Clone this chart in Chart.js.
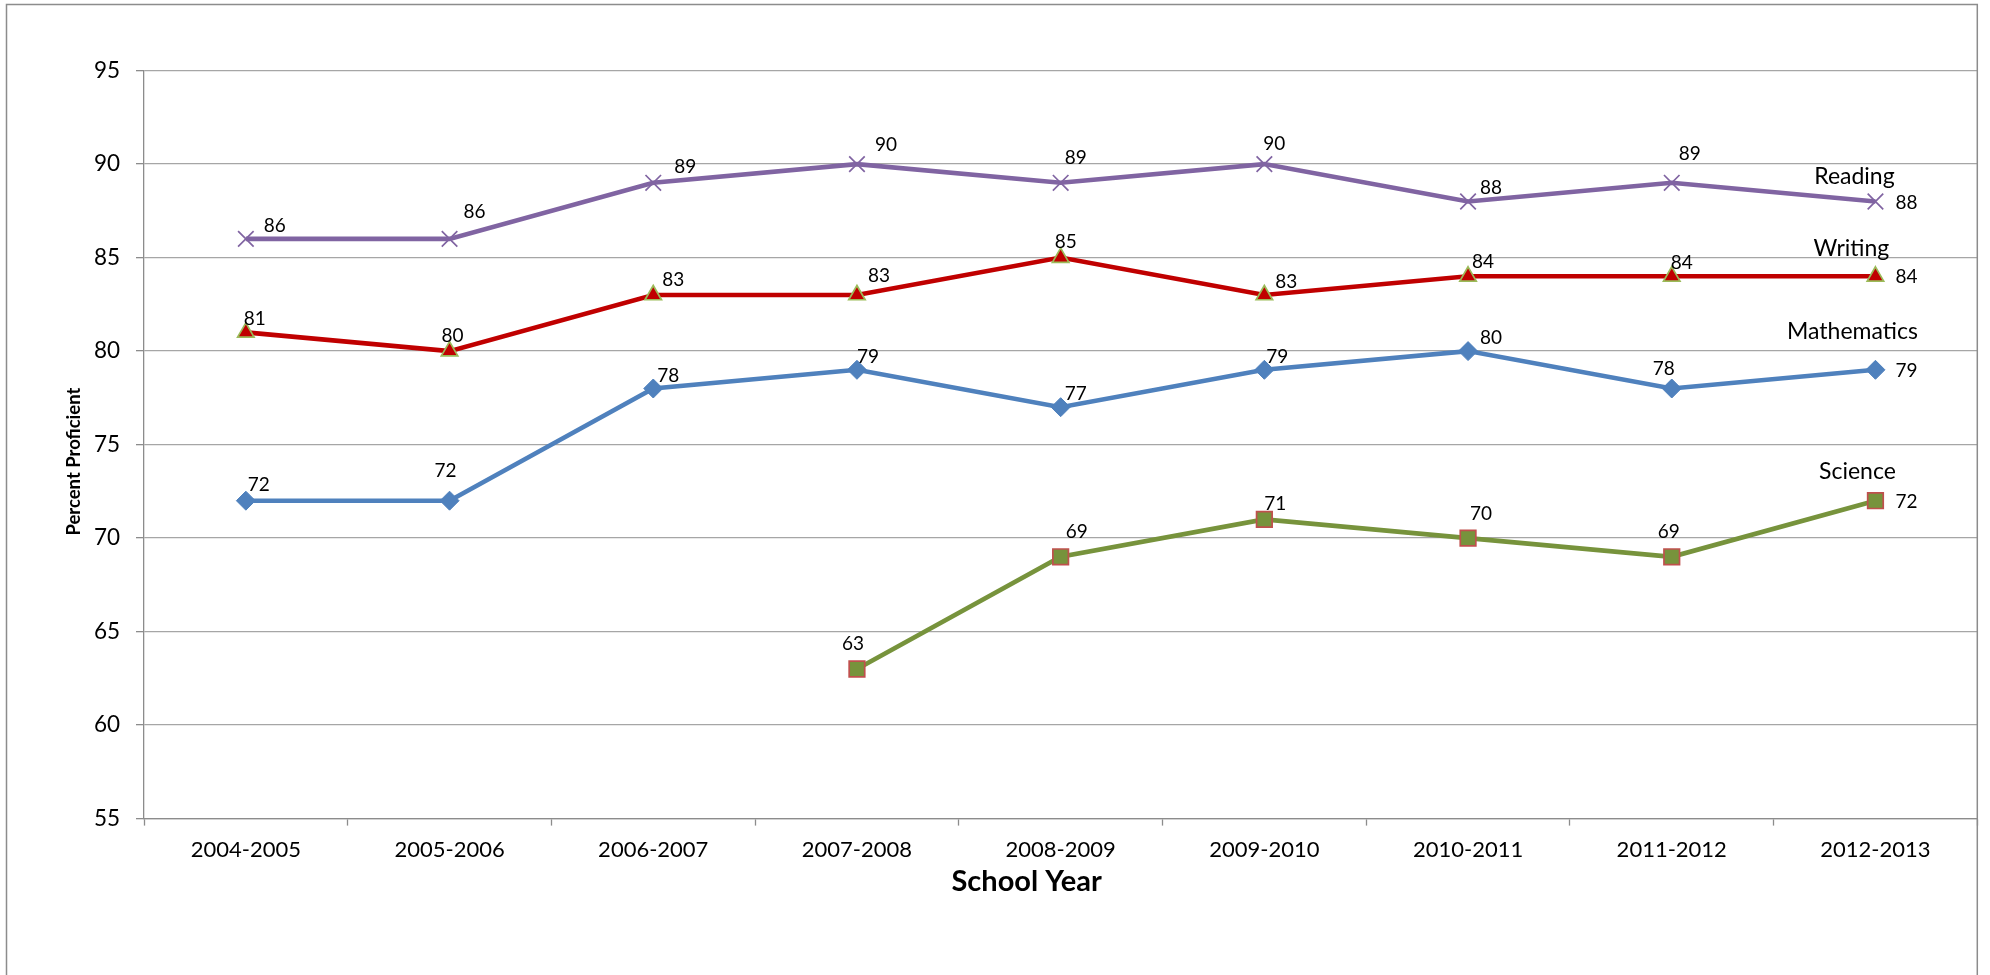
<!DOCTYPE html>
<html>
<head>
<meta charset="utf-8">
<script src="https://cdn.jsdelivr.net/npm/chart.js@4"></script>
<style>
  html, body { margin: 0; padding: 0; background: #ffffff; }
  #wrap { width: 1990px; height: 975px; position: relative; }
</style>
</head>
<body>
<div id="wrap"><canvas id="c" width="1990" height="975"></canvas></div>
<script>
// ---- data ----
const schoolYears = ['2004-2005','2005-2006','2006-2007','2007-2008','2008-2009','2009-2010','2010-2011','2011-2012','2012-2013'];
const reading     = [86, 86, 89, 90, 89, 90, 88, 89, 88];
const writing     = [81, 80, 83, 83, 85, 83, 84, 84, 84];
const mathematics = [72, 72, 78, 79, 77, 79, 80, 78, 79];
const science     = [null, null, null, 63, 69, 71, 70, 69, 72];
const seriesNames = ['Reading', 'Writing', 'Mathematics', 'Science'];
const yTicks = [55, 60, 65, 70, 75, 80, 85, 90, 95];

// ---- label placement (pixel offsets from each point) ----
const labelOffsets = [
  [[29,-13],[25,-27],[32,-16],[29,-19],[15,-25],[10,-20],[23,-14],[18,-29],[31,1]],
  [[9,-14],[3,-15],[20,-15],[22,-19],[5,-16],[22,-13],[15,-14],[10,-13],[31,1]],
  [[13,-16],[-4,-30],[15,-13],[11,-13],[15,-13],[13,-13],[23,-13],[-8,-20],[31,1]],
  [null,null,null,[-4,-25],[16,-25],[11,-16],[13,-24],[-3,-25],[31,1]]
];
const nameOffsets = [[-21,-25],[-24,-28],[-23,-38],[-18,-29]];

const FONT = 'Lato, "Open Sans", "DejaVu Sans", sans-serif';

const labelPlugin = {
  id: 'pointLabels',
  afterDatasetsDraw(chart) {
    const ctx = chart.ctx;
    ctx.save();
    ctx.fillStyle = '#000000';
    ctx.textAlign = 'center';
    ctx.textBaseline = 'middle';
    chart.data.datasets.forEach((ds, di) => {
      const meta = chart.getDatasetMeta(di);
      ctx.font = '19px ' + FONT;
      meta.data.forEach((pt, i) => {
        const v = ds.data[i];
        if (v === null || v === undefined) return;
        const off = labelOffsets[di][i] || [15, -16];
        ctx.fillText(String(v), pt.x + off[0], pt.y + off[1]);
      });
      // series name near last point
      const last = meta.data[meta.data.length - 1];
      ctx.font = '23px ' + FONT;
      const no = nameOffsets[di];
      ctx.fillText(seriesNames[di], last.x + no[0], last.y + no[1]);
    });
    ctx.restore();
  }
};

const frameAndTitles = {
  id: 'frameAndTitles',
  afterDraw(chart) {
    const ctx = chart.ctx;
    const a = chart.chartArea;
    ctx.save();
    // outer frame
    ctx.strokeStyle = '#8c8c8c';
    ctx.lineWidth = 1.5;
    ctx.strokeRect(6.5, 4.5, a.right - 6.5, 1000);
    // axis titles
    ctx.fillStyle = '#000000';
    ctx.textAlign = 'center';
    ctx.textBaseline = 'middle';
    ctx.font = 'bold 29px ' + FONT;
    ctx.fillText('School Year', (a.left + a.right) / 2 - 34, a.bottom + 63);
    ctx.translate(74, (a.top + a.bottom) / 2 + 17);
    ctx.rotate(-Math.PI / 2);
    ctx.font = 'bold 18.5px ' + FONT;
    ctx.fillText('Percent Proficient', 0, 0);
    ctx.restore();
  }
};

const common = { tension: 0, fill: false, borderWidth: 4.6 };

new Chart(document.getElementById('c'), {
  type: 'line',
  data: {
    labels: schoolYears,
    datasets: [
      Object.assign({}, common, {
        label: seriesNames[0], data: reading,
        borderColor: '#8064A2', backgroundColor: '#8064A2',
        pointStyle: 'crossRot', pointRadius: 11, pointHoverRadius: 11,
        pointBorderColor: '#8064A2', pointBorderWidth: 1.7
      }),
      Object.assign({}, common, {
        label: seriesNames[1], data: writing,
        borderColor: '#C00000', backgroundColor: '#C00000',
        pointStyle: 'triangle', pointRadius: 9.5, pointHoverRadius: 9.5,
        pointBackgroundColor: '#C00000', pointBorderColor: '#9BBB59', pointBorderWidth: 1.7
      }),
      Object.assign({}, common, {
        label: seriesNames[2], data: mathematics,
        borderColor: '#4F81BD', backgroundColor: '#4F81BD',
        pointStyle: 'rectRot', pointRadius: 9.5, pointHoverRadius: 9.5,
        pointBackgroundColor: '#4F81BD', pointBorderColor: '#4F81BD', pointBorderWidth: 1
      }),
      Object.assign({}, common, {
        label: seriesNames[3], data: science,
        borderColor: '#77933C', backgroundColor: '#77933C',
        pointStyle: 'rect', pointRadius: 11, pointHoverRadius: 11,
        pointBackgroundColor: '#77933C', pointBorderColor: '#C0504D', pointBorderWidth: 1.7
      })
    ]
  },
  options: {
    responsive: false,
    animation: false,
    devicePixelRatio: 1,
    clip: false,
    layout: { padding: { left: 0, top: 70.6, right: 7, bottom: 56.4 } },
    plugins: {
      legend: { display: false },
      tooltip: { enabled: false },
      title: { display: false }
    },
    scales: {
      x: {
        type: 'category',
        offset: true,
        grid: {
          offset: true, drawOnChartArea: false, drawTicks: true,
          tickLength: 7, tickColor: '#8c8c8c', tickWidth: 1.3
        },
        border: { display: true, color: '#8c8c8c', width: 1.3 },
        ticks: {
          color: '#000000', padding: 11, maxRotation: 0, autoSkip: false,
          font: { family: FONT, size: 22 }
        },
        afterFit(scale) { scale.height = 100; }
      },
      y: {
        min: 55, max: 95,
        afterBuildTicks(scale) { scale.ticks = yTicks.map(v => ({ value: v })); },
        grid: {
          color: '#a6a6a6', lineWidth: 1.3, drawTicks: true,
          tickLength: 8, tickColor: '#8c8c8c'
        },
        border: { display: true, color: '#8c8c8c', width: 1.3 },
        ticks: {
          color: '#000000', padding: 16,
          font: { family: FONT, size: 22.5 }
        },
        afterFit(scale) { scale.width = 144; }
      }
    }
  },
  plugins: [labelPlugin, frameAndTitles]
});
</script>
</body>
</html>
